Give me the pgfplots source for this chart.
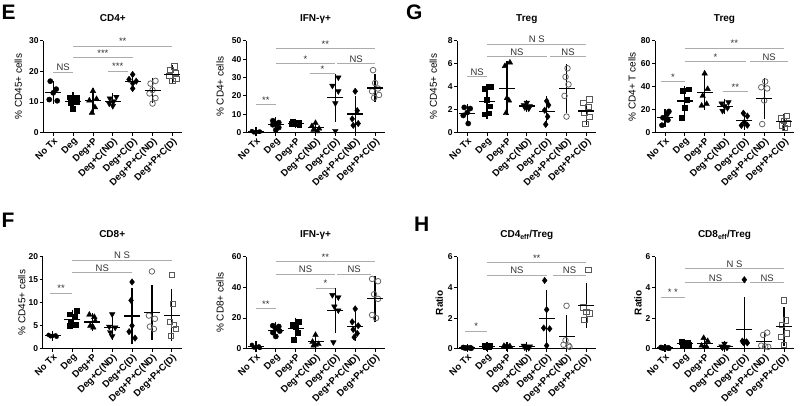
\documentclass[border=0pt]{standalone}
\usepackage{pgfplots}
\pgfplotsset{compat=1.18}
\usepackage{fontspec}
\setmainfont{Liberation Sans}

\tikzset{
  sigl/.style={draw=gray!65, line width=0.9pt},
  sigt/.style={anchor=south, inner sep=1pt, font=\fontsize{9.5}{10}\selectfont, text=black!80},
}
\newcommand\sig[4]{\draw[sigl] (axis cs:#1,#3) -- (axis cs:#2,#3) node[midway,sigt]{#4};}

\pgfplotsset{
  panel/.style={
    scale only axis, width=139pt, height=92pt,
    xmin=-0.5, xmax=6.5, ymin=0,
    axis lines=left, axis line style={-, line width=1pt, black},
    tick align=outside, major tick length=3pt,
    tick style={line width=0.8pt, black},
    xtick={0,...,6},
    xticklabels={No Tx,Deg,Deg+P,Deg+C(ND),Deg+C(D),Deg+P+C(ND),Deg+P+C(D)},
    x tick label style={rotate=45, anchor=north east, inner sep=0.8pt, font=\bfseries\fontsize{9.5}{10}\selectfont},
    y tick label style={font=\bfseries\fontsize{8.5}{9}\selectfont, inner sep=1.5pt},
    /pgf/number format/assume math mode=true,
    clip=false,
    title style={font=\bfseries\fontsize{10}{11}\selectfont, at={(0.5,1)}, anchor=base, yshift=13pt},
    ylabel style={font=\fontsize{10}{11}\selectfont, anchor=center},
  },
  pc/.style={only marks, mark=*, mark size=2.6pt, black},
  pcs/.style={only marks, mark=*, mark size=2.0pt, black},
  ps/.style={only marks, mark=square*, mark size=2.4pt, black},
  pt/.style={only marks, mark=triangle*, mark size=3.2pt, black},
  pv/.style={only marks, mark=triangle*, mark size=3.2pt, black, mark options={rotate=180}},
  pd/.style={only marks, mark=diamond*, mark size=3.2pt, black},
  poc/.style={only marks, mark=o, mark size=2.8pt, gray!80!black, mark options={line width=0.8pt}},
  pos/.style={only marks, mark=square, mark size=2.6pt, gray!70!black, mark options={line width=0.8pt}},
  msd/.style={only marks, black, mark=-, mark size=8pt, mark options={line width=1.2pt},
    error bars/.cd, y dir=both, y explicit,
    error mark options={mark size=4pt, line width=1.2pt, black},
    error bar style={line width=1.2pt, black}},
}

\begin{document}
\begin{tikzpicture}[x=1pt,y=1pt]
\useasboundingbox (0,0) rectangle (800,405);

\node[font=\bfseries\fontsize{21}{21}\selectfont, anchor=north west, inner sep=0] at (1.5,400) {E};
\node[font=\bfseries\fontsize{21}{21}\selectfont, anchor=north west, inner sep=0] at (1.5,192) {F};
\node[font=\bfseries\fontsize{21}{21}\selectfont, anchor=north west, inner sep=0] at (406,400) {G};
\node[font=\bfseries\fontsize{21}{21}\selectfont, anchor=north west, inner sep=0] at (414,188) {H};

% ---------------- E left: CD4+ ----------------
\begin{axis}[panel, at={(43.3pt,272.3pt)}, anchor=south west,
  ymax=30, ytick={0,10,20,30}, title={CD4+}, ylabel={\% CD45+ cells},
  ylabel style={at={(axis description cs:-0.18,0.5)}}]
\addplot[pc] coordinates {(-0.15,16.8) (0.15,14.2) (0,13.0) (-0.2,10.8) (0.2,10.4)};
\addplot[ps] coordinates {(0.82,11.6) (1.18,11.4) (1.0,10.8) (0.85,9.8) (1.0,7.9) (1.18,10.2)};
\addplot[pt] coordinates {(2.0,13.6) (2.18,11.0) (1.82,10.5) (2.1,8.3) (1.95,6.5)};
\addplot[pv] coordinates {(3.18,11.7) (2.85,11.2) (3.05,10.3) (2.82,9.5) (3.0,8.7)};
\addplot[pd] coordinates {(4.0,19.0) (3.82,17.4) (4.18,16.8) (4.0,16.1) (4.0,14.4)};
\addplot[poc] coordinates {(5.15,16.9) (4.9,16.0) (5.0,13.9) (4.85,12.8) (5.15,11.3) (5.0,9.5)};
\addplot[pos] coordinates {(6.1,21.6) (5.9,20.4) (6.15,19.4) (5.85,18.5) (6.2,17.5) (6.0,16.9)};
\addplot[msd] coordinates {(0,13.1) +- (0,2.5) (1,10.2) +- (0,1.8) (2,10.4) +- (0,2.8) (3,10.2) +- (0,1.3) (4,16.6) +- (0,1.8) (5,13.8) +- (0,2.8) (6,19.0) +- (0,1.8)};
\sig{0}{1}{19.7}{NS}
\sig{2.75}{3.75}{20.0}{***}
\sig{1}{4}{24.4}{***}
\sig{1}{6}{28.2}{**}
\end{axis}

% ---------------- E right: IFN-g CD4 ----------------
\begin{axis}[panel, at={(246pt,272.3pt)}, anchor=south west,
  ymax=50, ytick={0,10,20,30,40,50}, title={IFN-γ+}, ylabel={\% CD4+ cells},
  ylabel style={at={(axis description cs:-0.187,0.5)}}]
\addplot[pcs] coordinates {(-0.2,0.9) (0.15,0.5) (0,0.3) (-0.1,0.2) (0.2,0.6)};
\addplot[pc] coordinates {(0.85,6.5) (1.15,5.5) (1.0,4.8) (0.85,4.3) (1.15,2.8) (1.0,1.5)};
\addplot[ps] coordinates {(1.85,5.8) (2.15,5.3) (2.0,5.0) (1.82,4.7) (2.18,4.4) (2.0,4.9)};
\addplot[pt] coordinates {(3.0,5.3) (2.82,3.6) (3.18,2.3) (2.9,1.6) (3.1,0.8)};
\addplot[pv] coordinates {(4.15,30) (3.85,25.5) (4.15,22.5) (4.0,16) (4.0,1.0)};
\addplot[pd] coordinates {(5.0,22.5) (5.1,12) (4.85,7.5) (5.15,5.0) (4.9,4.0)};
\addplot[poc] coordinates {(5.9,34) (6.0,27) (6.15,24) (5.85,22.5) (6.2,20.5) (5.95,19)};
\addplot[msd] coordinates {(0,0.5) +- (0,0.3) (1,4.3) +- (0,1.9) (2,5.0) +- (0,0.5) (3,2.8) +- (0,1.8) (4,19.0) +- (0,10.9) (5,10.2) +- (0,7.5) (6,24.3) +- (0,5.3)};
\sig{0}{1}{15.3}{**}
\sig{2.7}{4}{32.1}{*}
\sig{1}{4}{37.5}{*}
\sig{4.1}{6}{37.5}{NS}
\sig{1}{6}{45.7}{**}
\end{axis}

% ---------------- G left: Treg %CD45+ ----------------
\begin{axis}[panel, at={(457.3pt,272.3pt)}, anchor=south west,
  ymax=8, ytick={0,2,4,6,8}, title={Treg}, ylabel={\% CD45+ cells},
  ylabel style={at={(axis description cs:-0.173,0.5)}}]
\addplot[pc] coordinates {(-0.15,2.2) (0.15,2.1) (0,1.75) (-0.2,1.5) (0.05,0.8)};
\addplot[ps] coordinates {(1.2,4.0) (0.85,3.8) (1.0,2.9) (1.15,2.3) (0.85,1.6) (1.1,1.7)};
\addplot[pt] coordinates {(2.15,6.1) (1.9,5.8) (2.0,3.0) (2.1,2.8) (1.95,1.7)};
\addplot[pv] coordinates {(3.0,2.6) (2.85,2.4) (3.15,2.3) (2.9,2.2) (3.1,2.1)};
\addplot[pd] coordinates {(4.0,2.75) (4.1,2.4) (3.9,1.95) (4.05,1.4) (3.95,0.72)};
\addplot[poc] coordinates {(5.05,5.6) (4.95,4.85) (5.1,4.2) (4.9,3.2) (5.0,1.4)};
\addplot[pos] coordinates {(6.15,2.9) (5.85,2.6) (6.1,2.25) (5.9,1.75) (6.15,1.4) (5.95,0.75)};
\addplot[msd] coordinates {(0,1.67) +- (0,0.52) (1,2.72) +- (0,1.2) (2,3.85) +- (0,2.0) (3,2.32) +- (0,0.2) (4,1.85) +- (0,0.98) (5,3.85) +- (0,1.75) (6,1.88) +- (0,0.85)};
\sig{0}{1}{4.86}{NS}
\sig{1}{4}{6.6}{NS}
\sig{4.15}{6}{6.6}{NS}
\sig{1}{6}{7.7}{N S}
\end{axis}

% ---------------- G right: Treg %CD4+ T ----------------
\begin{axis}[panel, at={(655pt,272.3pt)}, anchor=south west,
  ymax=80, ytick={0,20,40,60,80}, title={Treg}, ylabel={\% CD4+ T cells},
  ylabel style={at={(axis description cs:-0.166,0.5)}}]
\addplot[pc] coordinates {(0.2,18.5) (0.1,16) (-0.1,13) (0.15,11) (-0.15,6.5)};
\addplot[ps] coordinates {(1.2,37.8) (0.9,36.5) (1.1,28.7) (1.0,22) (0.85,12.9)};
\addplot[pt] coordinates {(2.0,51.5) (2.15,38) (1.9,32) (2.1,25) (1.85,23.5)};
\addplot[pv] coordinates {(3.2,26.5) (2.85,25.5) (3.0,23) (3.15,21.5) (2.9,19)};
\addplot[pd] coordinates {(3.95,17) (4.15,14.5) (4.0,9) (3.85,6.3) (4.15,6.5)};
\addplot[poc] coordinates {(5.05,44.5) (4.85,39.5) (5.15,38.5) (5.0,28) (4.9,7.5)};
\addplot[pos] coordinates {(6.15,14.3) (5.85,12.5) (6.0,10) (6.2,8) (5.9,6.3) (6.05,4.3)};
\addplot[msd] coordinates {(0,13) +- (0,4.3) (1,27.5) +- (0,10) (2,35) +- (0,11.5) (3,23) +- (0,3.2) (4,10.7) +- (0,4.5) (5,30) +- (0,14.3) (6,9.5) +- (0,3.6)};
\sig{-0.2}{1}{44.4}{*}
\sig{2.9}{4.2}{35.8}{**}
\sig{1}{4.1}{61.6}{*}
\sig{4.3}{6.2}{61.6}{NS}
\sig{1}{6}{73.6}{**}
\end{axis}

% ---------------- F left: CD8+ ----------------
\begin{axis}[panel, at={(42.7pt,56.3pt)}, anchor=south west,
  ymax=20, ytick={0,5,10,15,20}, title={CD8+}, ylabel={\% CD45+ cells},
  ylabel style={at={(axis description cs:-0.15,0.5)}}]
\addplot[pcs] coordinates {(-0.2,3.0) (0.15,2.9) (0,2.8) (-0.1,2.7) (0.2,2.6)};
\addplot[ps] coordinates {(1.2,8.2) (0.85,7.5) (1.1,7.0) (0.9,6.0) (1.15,5.3) (0.85,5.0)};
\addplot[pt] coordinates {(1.85,7.4) (2.1,6.9) (2.15,6.0) (1.9,5.0) (2.05,4.6)};
\addplot[pv] coordinates {(3.0,7.5) (2.85,4.8) (3.15,4.6) (2.9,3.6) (3.0,2.7)};
\addplot[pd] coordinates {(4.0,14.5) (3.95,10.5) (4.0,5.0) (3.85,3.7) (4.15,2.3)};
\addplot[poc] coordinates {(5.0,16.8) (4.85,7.2) (5.15,6.5) (4.9,4.8) (5.1,4.3)};
\addplot[pos] coordinates {(6.0,16) (6.05,9.7) (5.9,5.8) (6.1,5.2) (6.2,4.3) (5.95,2.8)};
\addplot[msd] coordinates {(0,2.8) +- (0,0.2) (1,6.4) +- (0,1.2) (2,5.8) +- (0,1.1) (3,4.65) +- (0,1.95) (4,7.1) +- (0,5.3) (5,7.9) +- (0,5.1) (6,7.3) +- (0,4.8)};
\sig{-0.15}{1}{12.1}{**}
\sig{1}{4}{16.5}{NS}
\sig{1}{6}{19.2}{N S}
\end{axis}

% ---------------- F right: IFN-g CD8 ----------------
\begin{axis}[panel, at={(246pt,56.3pt)}, anchor=south west,
  ymax=60, ytick={0,20,40,60}, title={IFN-γ+}, ylabel={\% CD8+ cells},
  ylabel style={at={(axis description cs:-0.187,0.5)}}]
\addplot[pcs] coordinates {(-0.2,2.5) (0.15,1.5) (0,1.0) (-0.1,0.8) (0.2,0.5)};
\addplot[pc] coordinates {(0.85,15) (1.15,14.5) (1.0,13) (1.2,11.5) (0.85,10.5) (1.0,8)};
\addplot[ps] coordinates {(2.15,17.7) (1.85,15.5) (2.0,14) (2.1,10.2) (1.9,6)};
\addplot[pt] coordinates {(3.0,9.0) (2.85,4.5) (3.15,3.0) (3.0,2.5) (2.9,2.0)};
\addplot[pv] coordinates {(3.85,35) (4.15,33.5) (3.95,27.5) (4.15,25) (3.9,4.2)};
\addplot[pd] coordinates {(5.0,26) (4.85,17.5) (5.15,15) (4.9,12.5) (5.1,10) (4.95,7.5)};
\addplot[poc] coordinates {(5.85,45.5) (6.15,44) (5.95,35.5) (6.15,32.5) (5.85,22) (6.05,20)};
\addplot[msd] coordinates {(0,1.3) +- (0,0.8) (1,12) +- (0,2.8) (2,13) +- (0,4.7) (3,4.8) +- (0,3.2) (4,25) +- (0,12.3) (5,14.5) +- (0,6.8) (6,32.5) +- (0,12.5)};
\sig{0}{1}{26}{**}
\sig{3}{4}{39.4}{*}
\sig{1}{4}{48.5}{NS}
\sig{4.1}{5.8}{48.5}{NS}
\sig{1}{6}{56.7}{**}
\end{axis}

% ---------------- H left: CD4eff/Treg ----------------
\begin{axis}[panel, at={(457.3pt,56.3pt)}, anchor=south west,
  ymax=6, ytick={0,2,4,6}, title={CD4\textsubscript{eff}/Treg}, ylabel={\textbf{Ratio}},
  ylabel style={at={(axis description cs:-0.13,0.5)}}]
\addplot[pc] coordinates {(-0.2,0.08) (0.15,0.06) (0,0.05) (-0.1,0.04) (0.2,0.03)};
\addplot[ps] coordinates {(0.85,0.2) (1.15,0.18) (1.0,0.15) (0.9,0.12) (1.1,0.1)};
\addplot[pt] coordinates {(1.85,0.18) (2.15,0.16) (2.0,0.14) (1.9,0.12) (2.1,0.1)};
\addplot[pv] coordinates {(2.85,0.2) (3.15,0.15) (3.0,0.1) (2.9,0.08) (3.1,0.05)};
\addplot[pd] coordinates {(3.9,4.45) (4.0,2.55) (3.85,1.35) (4.15,1.3) (4.0,0.2)};
\addplot[poc] coordinates {(5.0,2.8) (4.95,0.55) (4.85,0.26) (5.1,0.2) (5.15,0.12)};
\addplot[pos] coordinates {(6.1,5.15) (5.85,2.7) (6.0,2.4) (6.15,2.3) (5.9,1.9)};
\addplot[msd] coordinates {(0,0.05) +- (0,0.02) (1,0.15) +- (0,0.04) (2,0.14) +- (0,0.03) (3,0.12) +- (0,0.06) (4,1.97) +- (0,1.6) (5,0.78) += (0,1.15) -= (0,0.7) (6,2.8) +- (0,1.2)};
\sig{-0.1}{1}{1.13}{*}
\sig{1}{4}{4.78}{NS}
\sig{4.3}{6}{4.78}{NS}
\sig{1}{6}{5.6}{**}
\end{axis}

% ---------------- H right: CD8eff/Treg ----------------
\begin{axis}[panel, at={(655pt,56.3pt)}, anchor=south west,
  ymax=6, ytick={0,2,4,6}, title={CD8\textsubscript{eff}/Treg}, ylabel={\textbf{Ratio}},
  ylabel style={at={(axis description cs:-0.122,0.5)}}]
\addplot[pc] coordinates {(-0.2,0.08) (0.15,0.06) (0,0.05) (-0.1,0.04) (0.2,0.03)};
\addplot[ps] coordinates {(0.85,0.45) (1.15,0.38) (1.0,0.32) (1.2,0.28) (0.9,0.25) (1.05,0.22)};
\addplot[pt] coordinates {(1.95,0.7) (2.15,0.5) (1.85,0.2) (2.1,0.12) (2.0,0.1)};
\addplot[pv] coordinates {(3.0,0.32) (2.85,0.15) (3.15,0.1) (2.9,0.08) (3.1,0.1)};
\addplot[pd] coordinates {(4.0,4.5) (3.9,0.5) (4.1,0.45) (3.95,0.4) (4.15,0.38)};
\addplot[poc] coordinates {(5.15,1.05) (4.95,0.9) (4.85,0.2) (5.05,0.15) (5.2,0.12)};
\addplot[pos] coordinates {(6.0,3.15) (6.1,1.85) (5.9,1.55) (6.15,1.0) (5.85,0.75) (6.0,0.25)};
\addplot[msd] coordinates {(0,0.05) +- (0,0.02) (1,0.32) +- (0,0.08) (2,0.32) +- (0,0.25) (3,0.15) +- (0,0.1) (4,1.25) += (0,1.83) -= (0,1.1) (5,0.45) +- (0,0.4) (6,1.43) +- (0,1.0)};
\sig{-0.2}{1}{3.36}{* *}
\sig{1}{4.1}{4.3}{NS}
\sig{4.3}{6}{4.3}{NS}
\sig{1}{6}{5.22}{N S}
\end{axis}
\end{tikzpicture}
\end{document}
